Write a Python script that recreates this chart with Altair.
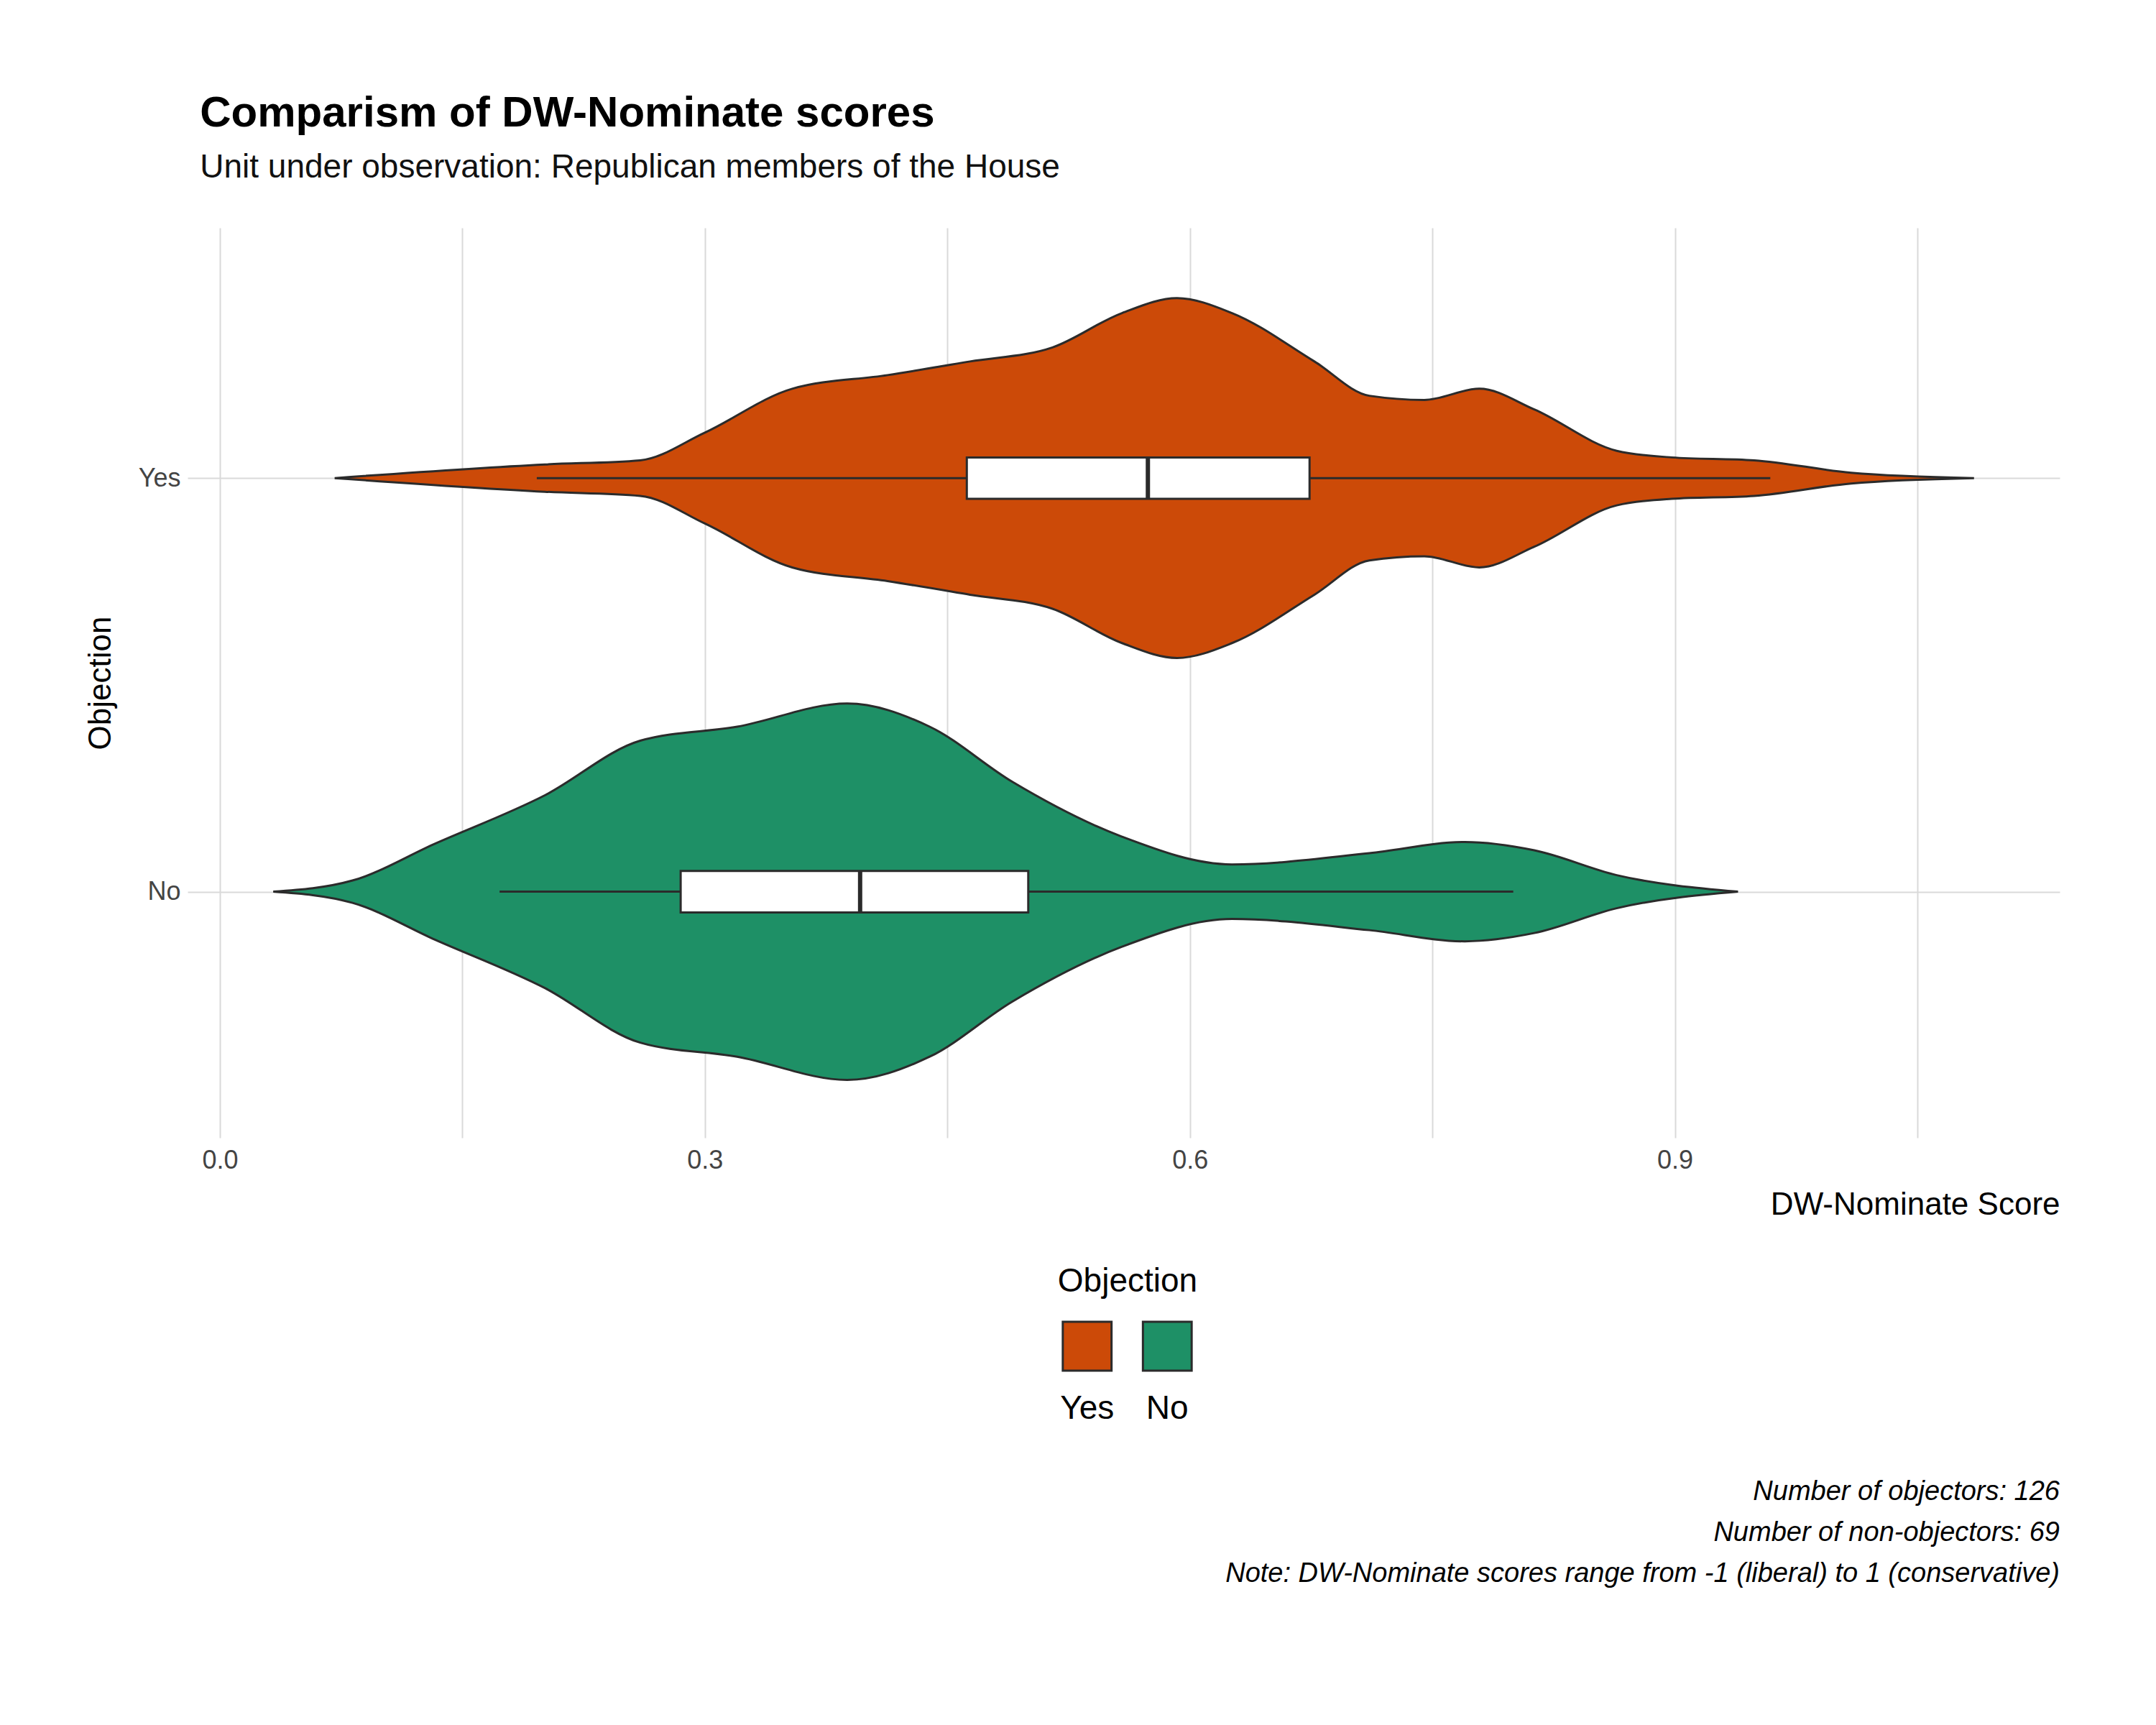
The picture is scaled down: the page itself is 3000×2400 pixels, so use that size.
import altair as alt
import pandas as pd

# violin outlines: score positions and half-widths
yes_score = [0.071, 0.201, 0.260, 0.300, 0.354, 0.413, 0.464, 0.515, 0.558, 0.592, 0.626,
             0.677, 0.711, 0.745, 0.779, 0.813, 0.864, 0.898, 0.949, 1.009, 1.085]
yes_half = [0, 0.033, 0.043, 0.11, 0.216, 0.249, 0.282, 0.316, 0.399, 0.435, 0.399,
            0.282, 0.199, 0.189, 0.216, 0.166, 0.066, 0.05, 0.043, 0.013, 0]
no_score = [0.033, 0.082, 0.133, 0.201, 0.260, 0.320, 0.388, 0.439, 0.490, 0.558, 0.626,
            0.711, 0.770, 0.813, 0.864, 0.939]
no_half = [0, 0.027, 0.116, 0.233, 0.365, 0.399, 0.455, 0.399, 0.266, 0.133, 0.066,
           0.093, 0.12, 0.1, 0.04, 0]

groups = ['Yes', 'No']
centers = [1, 0]
colors = ['#CC4A08', '#1E9066']
q1 = [0.462, 0.285]
median = [0.574, 0.396]
q3 = [0.674, 0.500]
wlo = [0.196, 0.173]
whi = [0.959, 0.800]
box_half = 0.05

captions = ['Number of objectors: 126', 'Number of non-objectors: 69',
            'Note: DW-Nominate scores range from -1 (liberal) to 1 (conservative)']

FONT = 'Liberation Sans Narrow, Liberation Sans, sans-serif'

rows = []
for g, c, xs, hs in [('Yes', 1, yes_score, yes_half), ('No', 0, no_score, no_half)]:
    for x, h in zip(xs, hs):
        rows.append({'group': g, 'score': x, 'lo': c - h, 'hi': c + h})
vdf = pd.DataFrame(rows)
bdf = pd.DataFrame({'group': groups, 'c': centers, 'q1': q1, 'med': median, 'q3': q3,
                    'wlo': wlo, 'whi': whi})
bdf['blo'] = bdf['c'] - box_half
bdf['bhi'] = bdf['c'] + box_half

W, H = 2605, 1266
xs = alt.Scale(domain=[-0.02, 1.138], nice=False, zero=False)
ys = alt.Scale(domain=[-0.595, 1.605], nice=False, zero=False)
color = alt.Color('group:N', scale=alt.Scale(domain=groups, range=colors), legend=None)

xaxis = alt.Axis(values=[0, 0.15, 0.3, 0.45, 0.6, 0.75, 0.9, 1.05],
                 labelExpr="(round(datum.value*100) % 30 == 0) ? format(datum.value, '.1f') : ''",
                 title='DW-Nominate Score', titleAnchor='end', titleFontSize=44,
                 titleFontWeight='normal', labelFontSize=36, labelColor='#444',
                 domain=False, ticks=False, gridColor='#d9d9d9', gridWidth=2,
                 labelPadding=14, titlePadding=22)
yaxis = alt.Axis(values=[0, 1], labelExpr="datum.value == 1 ? 'Yes' : 'No'",
                 title='Objection', titleFontSize=44, titleFontWeight='normal',
                 labelFontSize=36, labelColor='#444', domain=False, ticks=False,
                 gridColor='#d9d9d9', gridWidth=2, labelPadding=10, titlePadding=30)

violin = alt.Chart(vdf).mark_area(interpolate='monotone', stroke='#2b2b2b', strokeWidth=3,
                                  opacity=1).encode(
    x=alt.X('score:Q', scale=xs, axis=xaxis),
    y=alt.Y('lo:Q', scale=ys, axis=yaxis),
    y2='hi:Q',
    color=color,
    detail='group:N'
)
whisk = alt.Chart(bdf).mark_rule(color='#2b2b2b', strokeWidth=3).encode(
    x=alt.X('wlo:Q', scale=xs), x2='whi:Q', y=alt.Y('c:Q', scale=ys))
box = alt.Chart(bdf).mark_rect(fill='white', stroke='#2b2b2b', strokeWidth=3).encode(
    x=alt.X('q1:Q', scale=xs), x2='q3:Q', y=alt.Y('blo:Q', scale=ys), y2='bhi:Q')
med = alt.Chart(bdf).mark_rule(color='#2b2b2b', strokeWidth=6).encode(
    x=alt.X('med:Q', scale=xs), y=alt.Y('blo:Q', scale=ys), y2='bhi:Q')

main = (violin + whisk + box + med).properties(width=W, height=H)

ldf = pd.DataFrame({'group': groups})
lx = alt.X('group:N', scale=alt.Scale(domain=groups, range=[1196, 1419]), axis=None)
lsq = alt.Chart(ldf).mark_square(size=4600, stroke='#2b2b2b', strokeWidth=3, opacity=1).encode(
    x=lx, y=alt.value(125), color=color)
llab = alt.Chart(ldf).mark_text(fontSize=46, baseline='top').encode(
    x=lx, y=alt.value(190), text='group:N')
ltitle = alt.Chart(ldf.head(1)).mark_text(fontSize=46, text='Objection').encode(
    x=alt.value(1308), y=alt.value(35))
legend = (lsq + llab + ltitle).properties(width=W, height=250)

cdf = pd.DataFrame({'line': captions, 'i': [0, 1, 2]})
cap = alt.Chart(cdf).mark_text(fontSize=38, fontStyle='italic', align='right').encode(
    x=alt.value(W), y=alt.Y('i:O', axis=None), text='line:N'
).properties(width=W, height=170)

chart = alt.vconcat(main, legend, cap, spacing=50).properties(
    title=alt.TitleParams('Comparism of DW-Nominate scores',
                          subtitle='Unit under observation: Republican members of the House',
                          anchor='start', fontSize=60, fontWeight='bold', subtitleFontSize=46,
                          subtitleColor='#111', subtitlePadding=22, offset=60, dx=160),
    padding={'left': 110, 'top': 120, 'right': 100, 'bottom': 60}
).configure(font=FONT).configure_view(stroke=None).configure_axis(
    labelFont=FONT, titleFont=FONT).configure_title(font=FONT, subtitleFont=FONT)

chart.save("out.html", embed_options={"renderer": "svg", "actions": False})
